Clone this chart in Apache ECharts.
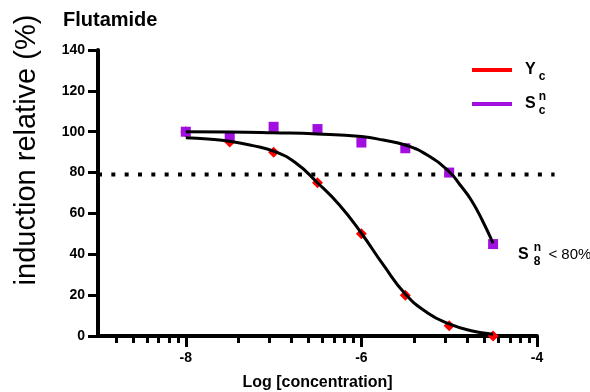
<!DOCTYPE html>
<html>
<head>
<meta charset="utf-8">
<script src="https://cdn.jsdelivr.net/npm/echarts@6/dist/echarts.min.js"></script>
<style>
  html, body { margin: 0; padding: 0; background: #fff; }
  #chart { width: 590px; height: 392px; }
</style>
</head>
<body>
<div id="chart"></div>
<script>
// Measured responses (% induction) at each log concentration
const logConc = [-8, -7.5, -7, -6.5, -6, -5.5, -5, -4.5];
const ycValues = [100, 95, 90, 75, 50, 20, 5, 0];
const sncValues = [100, 97.6, 102.4, 101.3, 94.7, 91.9, 80, 45];

// Fitted dose-response curves
const ycFitX = [-8, -7.75, -7.5, -7.25, -7, -6.75, -6.5, -6.25, -6, -5.75, -5.5, -5.25, -5, -4.75, -4.5];
const ycFitY = [97.1, 96.4, 95.3, 93.3, 90.5, 84.8, 75.0, 64.1, 50.3, 34.8, 20.6, 11.4, 5.9, 2.6, 0.8];
const sncFitX = [-8, -7.5, -7, -6.5, -6, -5.75, -5.5, -5.25, -5, -4.875, -4.75, -4.625, -4.5];
const sncFitY = [100.0, 99.9, 99.5, 98.9, 97.6, 95.9, 93.5, 88.6, 80.4, 73.9, 66.6, 56.8, 45.4];

// Cut-off level and its horizontal extent
const cutoffLevel = 79;
const cutoffX = [-9, -3.8];

// Axis ticks: labelled majors every two decades, log-spaced minors between them
const xMajorTicks = [-8, -6, -4];
const xMinorTicks = [];
xMajorTicks.forEach(function (m) {
  for (let k = 2; k <= 9; k++) {
    const v = m + 2 * Math.log10(k / 10);
    if (v > -9) xMinorTicks.push(v);
  }
});

const FONT = '"Liberation Sans", Arial, Helvetica, sans-serif';
const RED = '#ff0000';
const PURPLE = '#a10ee0';

// plot geometry
const PLOT_LEFT = 98, PLOT_TOP = 50, PLOT_BOTTOM = 56, PLOT_RIGHT = 53;
const X_MIN = -9, X_MAX = -4;
const pxPerUnit = (590 - PLOT_LEFT - PLOT_RIGHT) / (X_MAX - X_MIN);

const zip = (xs, ys) => xs.map((x, i) => [x, ys[i]]);

// the last S point carries the "S8 < 80%" note
const sncData = zip(logConc, sncValues).map(function (p, i, arr) {
  if (i !== arr.length - 1) return p;
  return {
    value: p,
    label: {
      show: true,
      position: 'right',
      distance: 20,
      offset: [0, 11],
      color: '#000',
      formatter: '{a|S}{p|n}{q|8}{t|< 80%}',
      rich: {
        a: { fontFamily: FONT, fontSize: 16, fontWeight: 'bold', color: '#000', lineHeight: 26, padding: [0, 5, 0, 0] },
        p: { fontFamily: FONT, fontSize: 12, fontWeight: 'bold', color: '#000', lineHeight: 10, verticalAlign: 'top', width: 0 },
        q: { fontFamily: FONT, fontSize: 12, fontWeight: 'bold', color: '#000', lineHeight: 12, verticalAlign: 'bottom' },
        t: { fontFamily: FONT, fontSize: 15, color: '#000', padding: [0, 0, 0, 8] }
      }
    }
  };
});

const legendText = {
  'Y_c': '{m|Y}{subY|c}',
  'S^n_c': '{m|S}{sup|n}{subS|c}'
};

const chart = echarts.init(document.getElementById('chart'));
chart.setOption({
  animation: false,
  backgroundColor: '#fff',
  title: {
    text: 'Flutamide',
    left: 63,
    top: 10,
    padding: 0,
    textStyle: { fontFamily: FONT, fontSize: 20, fontWeight: 'bold', color: '#000' }
  },
  legend: {
    orient: 'vertical',
    left: 472,
    top: 62,
    padding: 0,
    itemGap: 8,
    itemWidth: 40,
    itemHeight: 4,
    icon: 'rect',
    data: ['Y_c', 'S^n_c'],
    formatter: function (name) { return legendText[name]; },
    textStyle: {
      rich: {
        m: { fontFamily: FONT, fontSize: 16, fontWeight: 'bold', color: '#000', lineHeight: 26, padding: [0, 3, 0, 8] },
        subY: { fontFamily: FONT, fontSize: 12, fontWeight: 'bold', color: '#000', lineHeight: 14, verticalAlign: 'bottom' },
        sup: { fontFamily: FONT, fontSize: 12, fontWeight: 'bold', color: '#000', lineHeight: 10, verticalAlign: 'top', width: 0 },
        subS: { fontFamily: FONT, fontSize: 12, fontWeight: 'bold', color: '#000', lineHeight: 18, verticalAlign: 'bottom' }
      }
    }
  },
  grid: [
    { left: PLOT_LEFT, right: PLOT_RIGHT, top: PLOT_TOP, bottom: PLOT_BOTTOM, containLabel: false, outerBoundsMode: 'none' },
    // same scale, extended to the right for the cut-off line
    {
      left: PLOT_LEFT,
      right: 590 - PLOT_LEFT - (cutoffX[1] - X_MIN) * pxPerUnit,
      top: PLOT_TOP, bottom: PLOT_BOTTOM, containLabel: false, outerBoundsMode: 'none'
    }
  ],
  xAxis: [
    {
      type: 'value',
      gridIndex: 0,
      min: X_MIN,
      max: X_MAX,
      position: 'bottom',
      name: 'Log [concentration]',
      nameLocation: 'middle',
      nameGap: 39,
      nameTextStyle: { fontFamily: FONT, fontSize: 16, fontWeight: 'bold', color: '#000' },
      axisLine: { show: true, lineStyle: { color: '#000', width: 4 } },
      axisTick: { show: true, customValues: xMajorTicks, length: 11, lineStyle: { color: '#000', width: 3 } },
      axisLabel: {
        customValues: xMajorTicks,
        margin: 15,
        fontFamily: FONT, fontSize: 14, fontWeight: 'bold', color: '#000',
        formatter: function (v) { return String(v); }
      },
      splitLine: { show: false }
    },
    {
      type: 'value',
      gridIndex: 0,
      min: X_MIN,
      max: X_MAX,
      position: 'bottom',
      axisLine: { show: false },
      axisTick: { show: true, customValues: xMinorTicks, length: 7, lineStyle: { color: '#000', width: 3 } },
      axisLabel: { show: false, customValues: xMinorTicks },
      splitLine: { show: false }
    },
    {
      type: 'value',
      gridIndex: 1,
      min: cutoffX[0],
      max: cutoffX[1],
      show: false
    }
  ],
  yAxis: [
    {
      type: 'value',
      gridIndex: 0,
      min: 0,
      max: 140,
      interval: 20,
      name: 'induction relative (%)',
      nameLocation: 'middle',
      nameGap: 57,
      nameTextStyle: { fontFamily: FONT, fontSize: 29, color: '#000', padding: [0, 0, 0, 86] },
      axisLine: { show: true, lineStyle: { color: '#000', width: 4 } },
      axisTick: { show: true, length: 10, lineStyle: { color: '#000', width: 3 } },
      axisLabel: { margin: 13, fontFamily: FONT, fontSize: 14, fontWeight: 'bold', color: '#000' },
      splitLine: { show: false }
    },
    { type: 'value', gridIndex: 1, min: 0, max: 140, show: false }
  ],
  series: [
    {
      name: 'Y_c',
      type: 'scatter',
      symbol: 'diamond',
      symbolSize: 11,
      itemStyle: { color: RED, opacity: 1 },
      data: zip(logConc, ycValues),
      z: 2
    },
    {
      name: 'S^n_c',
      type: 'scatter',
      symbol: 'rect',
      symbolSize: 10,
      itemStyle: { color: PURPLE, opacity: 1 },
      data: sncData,
      z: 2
    },
    {
      name: 'Y_c fit',
      type: 'line',
      smooth: true,
      showSymbol: false,
      symbol: 'none',
      silent: true,
      lineStyle: { color: '#000', width: 3 },
      data: zip(ycFitX, ycFitY),
      z: 3
    },
    {
      name: 'S^n_c fit',
      type: 'line',
      smooth: true,
      showSymbol: false,
      symbol: 'none',
      silent: true,
      lineStyle: { color: '#000', width: 3 },
      data: zip(sncFitX, sncFitY),
      z: 3
    },
    {
      name: 'cut-off',
      type: 'line',
      xAxisIndex: 2,
      yAxisIndex: 1,
      showSymbol: false,
      symbol: 'none',
      silent: true,
      lineStyle: { color: '#000', width: 4, type: [4, 9.33], cap: 'butt' },
      data: cutoffX.map(x => [x, cutoffLevel]),
      z: 1
    }
  ]
});
</script>
</body>
</html>
